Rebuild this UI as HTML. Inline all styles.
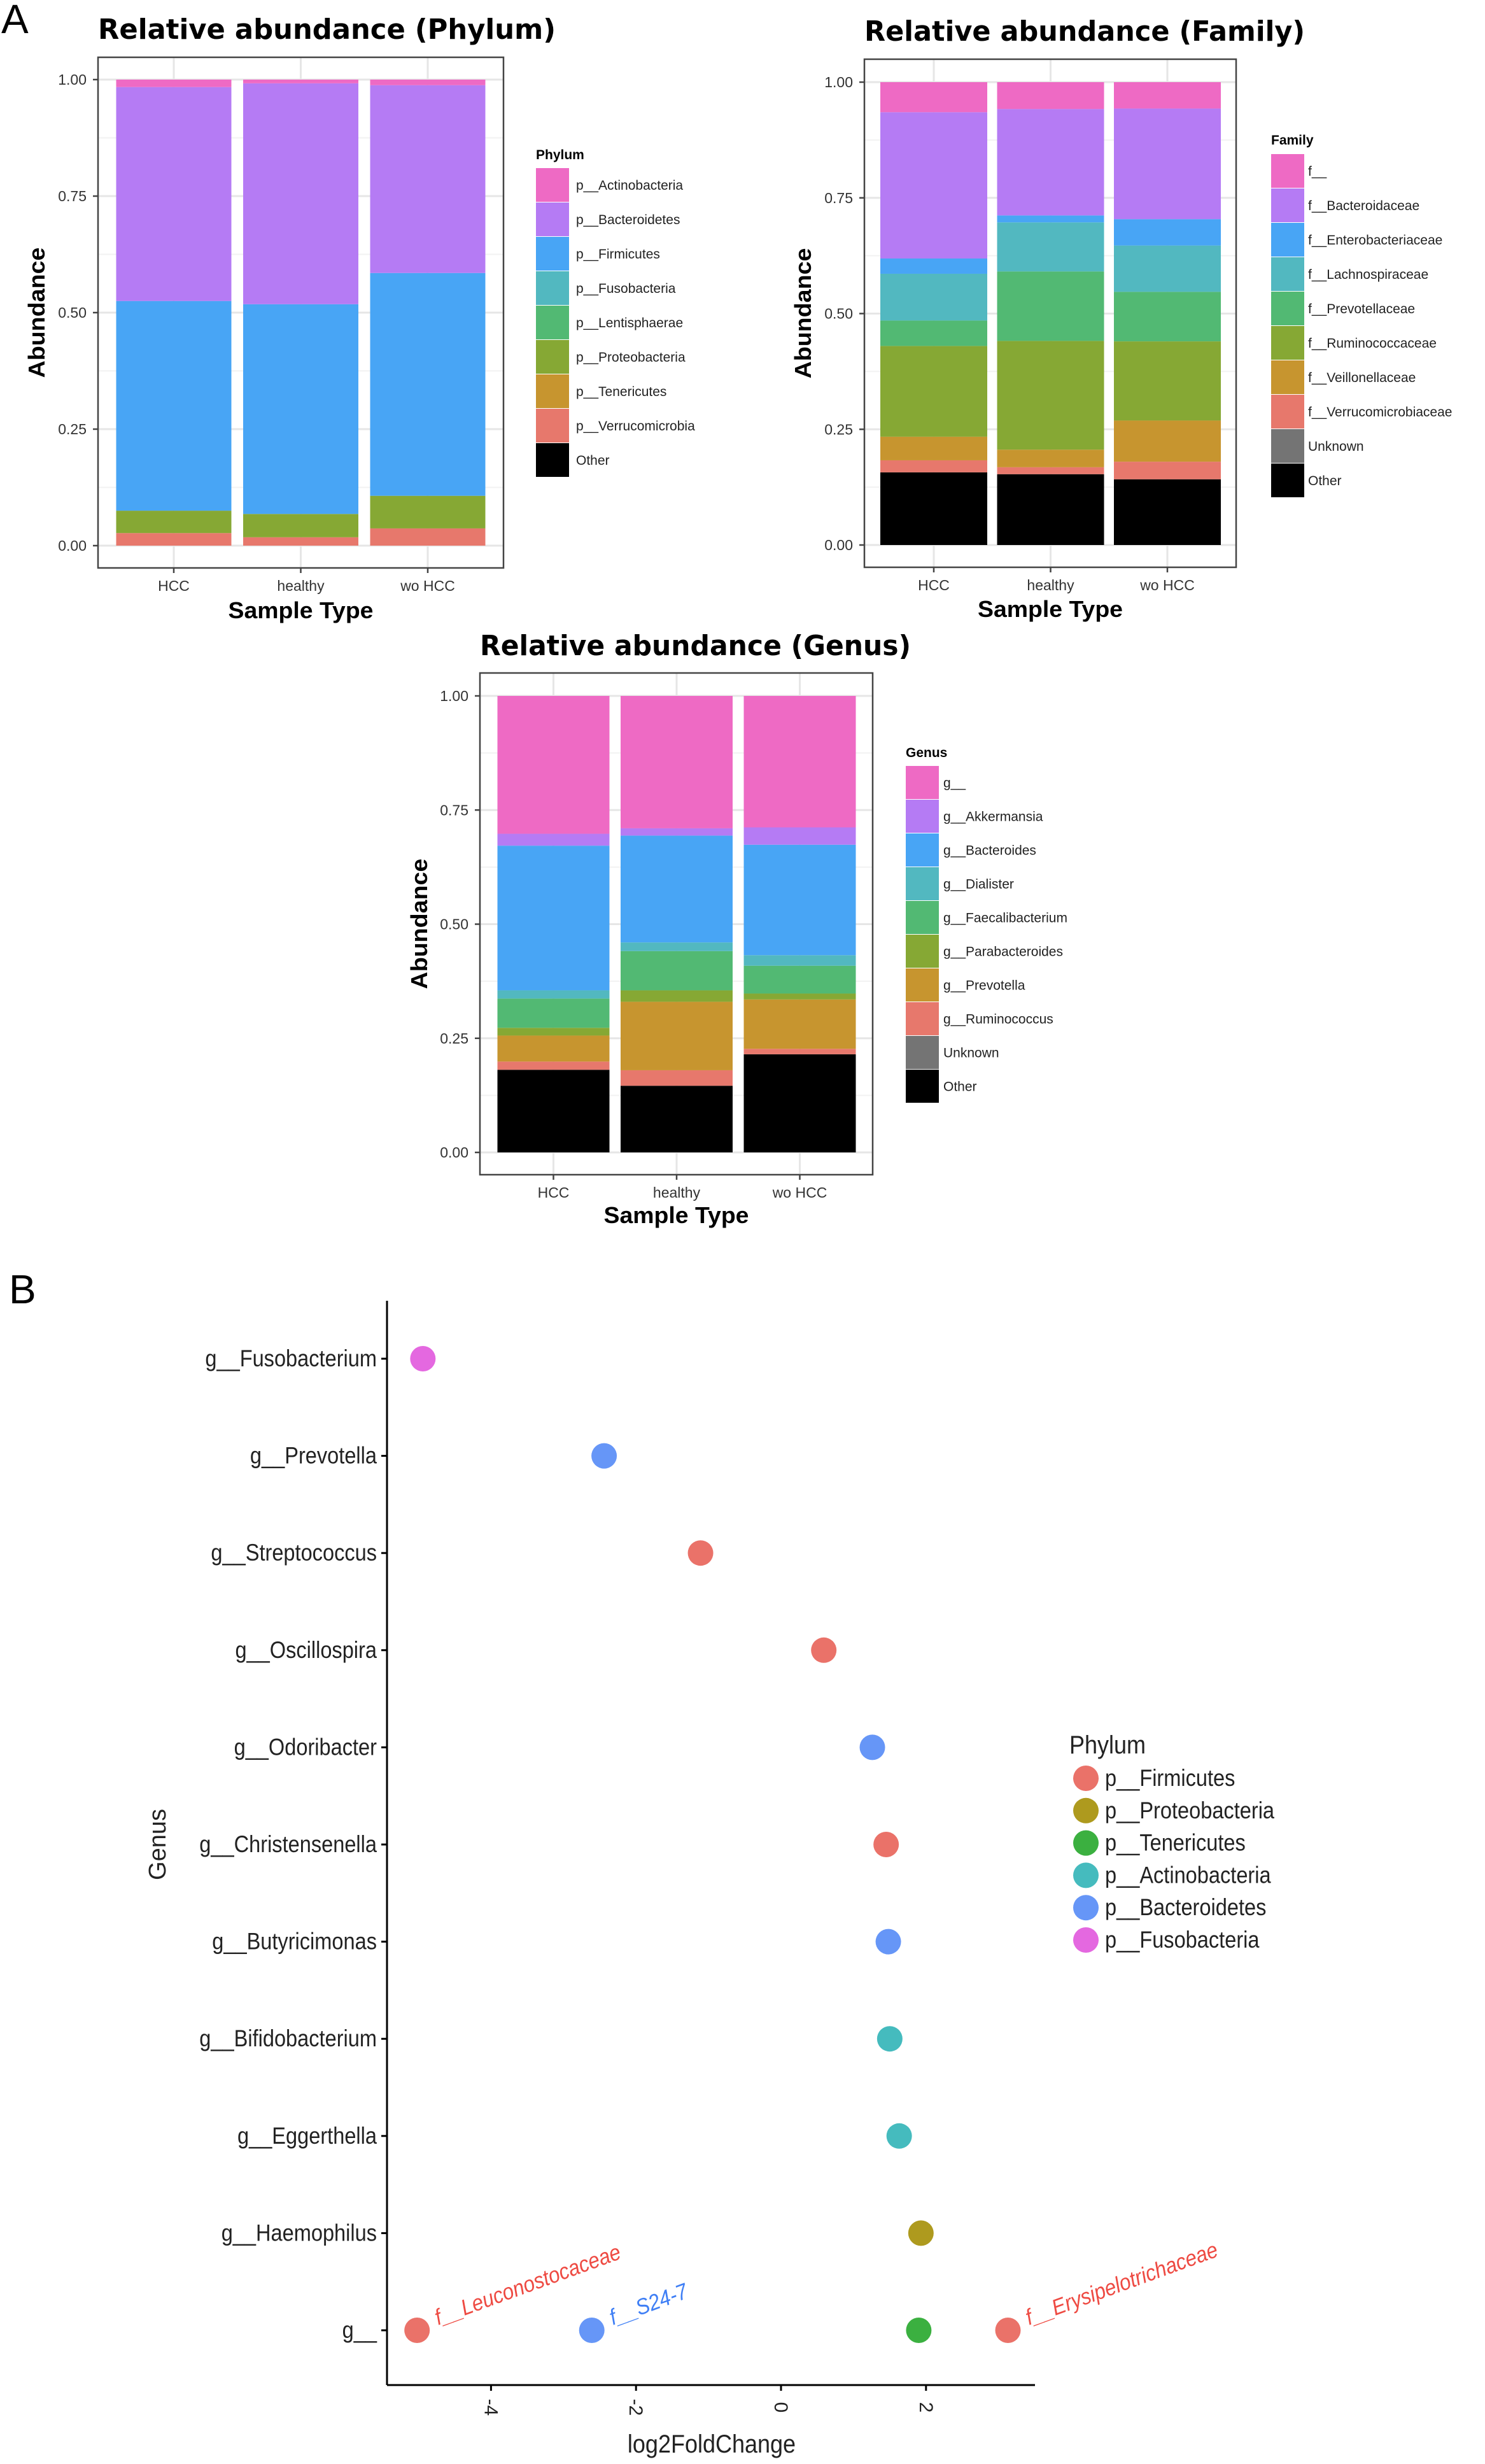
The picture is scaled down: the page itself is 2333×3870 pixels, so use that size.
<!DOCTYPE html>
<html><head><meta charset="utf-8"><style>
html,body{margin:0;padding:0;background:#fff;}
svg{display:block;font-family:"Liberation Sans",Arial,sans-serif;}
</style></head><body>
<svg id="root" width="2333" height="3870" viewBox="0 0 2333 3870" xmlns="http://www.w3.org/2000/svg">
<text x="2" y="52" font-size="64" fill="#000">A</text>
<text x="14" y="2047" font-size="64" fill="#000">B</text>
<g id="charts"></g>
</svg>
<script>
// ---------- Phylum data ----------
const phylumCategories = ["HCC", "healthy", "wo HCC"];
const phylumNames = ["Other","p__Verrucomicrobia","p__Tenericutes","p__Proteobacteria","p__Lentisphaerae","p__Fusobacteria","p__Firmicutes","p__Bacteroidetes","p__Actinobacteria"];
const phylumOther = [0, 0, 0];
const phylumVerruco = [0.027, 0.018, 0.037];
const phylumTeneric = [0, 0, 0];
const phylumProteo = [0.048, 0.050, 0.070];
const phylumLentis = [0, 0, 0];
const phylumFuso = [0, 0, 0];
const phylumFirm = [0.450, 0.450, 0.478];
const phylumBact = [0.459, 0.474, 0.403];
const phylumActino = [0.016, 0.008, 0.012];
// ---------- Family data ----------
const familyCategories = ["HCC", "healthy", "wo HCC"];
const familyNames = ["Other","Unknown","f__Verrucomicrobiaceae","f__Veillonellaceae","f__Ruminococcaceae","f__Prevotellaceae","f__Lachnospiraceae","f__Enterobacteriaceae","f__Bacteroidaceae","f__"];
const familyOther = [0.157, 0.153, 0.142];
const familyUnknown = [0, 0, 0];
const familyVerruco = [0.026, 0.015, 0.038];
const familyVeillon = [0.051, 0.038, 0.089];
const familyRumino = [0.196, 0.235, 0.171];
const familyPrevo = [0.055, 0.150, 0.107];
const familyLachno = [0.101, 0.106, 0.100];
const familyEntero = [0.033, 0.015, 0.057];
const familyBacteroid = [0.316, 0.230, 0.239];
const familyBlank = [0.065, 0.058, 0.057];
// ---------- Genus data ----------
const genusCategories = ["HCC", "healthy", "wo HCC"];
const genusNames = ["Other","Unknown","g__Ruminococcus","g__Prevotella","g__Parabacteroides","g__Faecalibacterium","g__Dialister","g__Bacteroides","g__Akkermansia","g__"];
const genusOther = [0.181, 0.146, 0.215];
const genusUnknown = [0, 0, 0];
const genusRumino = [0.018, 0.034, 0.012];
const genusPrevotella = [0.057, 0.150, 0.108];
const genusParabact = [0.017, 0.025, 0.013];
const genusFaecali = [0.064, 0.086, 0.061];
const genusDialister = [0.018, 0.019, 0.023];
const genusBacteroides = [0.317, 0.234, 0.242];
const genusAkk = [0.026, 0.016, 0.038];
const genusBlank = [0.302, 0.290, 0.288];
const yTickLabels = ["0.00","0.25","0.50","0.75","1.00"];
const yTickValues = [0, 0.25, 0.5, 0.75, 1];
// ---------- Panel B data ----------
const bGenera = ["g__Fusobacterium","g__Prevotella","g__Streptococcus","g__Oscillospira","g__Odoribacter","g__Christensenella","g__Butyricimonas","g__Bifidobacterium","g__Eggerthella","g__Haemophilus","g__"];
const pointGenus = ["g__Fusobacterium","g__Prevotella","g__Streptococcus","g__Oscillospira","g__Odoribacter","g__Christensenella","g__Butyricimonas","g__Bifidobacterium","g__Eggerthella","g__Haemophilus","g__","g__","g__","g__"];
const pointLfc = [-4.94,-2.44,-1.11,0.59,1.26,1.45,1.48,1.50,1.63,1.93,-5.02,-2.61,1.90,3.13];
const pointPhylum = ["p__Fusobacteria","p__Bacteroidetes","p__Firmicutes","p__Firmicutes","p__Bacteroidetes","p__Firmicutes","p__Bacteroidetes","p__Actinobacteria","p__Actinobacteria","p__Proteobacteria","p__Firmicutes","p__Bacteroidetes","p__Tenericutes","p__Firmicutes"];
const pointLabel = ["","","","","","","","","","","f__Leuconostocaceae","f__S24-7","","f__Erysipelotrichaceae"];
const bPhyla = ["p__Firmicutes","p__Proteobacteria","p__Tenericutes","p__Actinobacteria","p__Bacteroidetes","p__Fusobacteria"];
const bXTicks = [-4,-2,0,2];

const NS="http://www.w3.org/2000/svg";
const root=document.getElementById('charts');
function mk(tag,attrs,parent,text){const e=document.createElementNS(NS,tag);for(const k in attrs)e.setAttribute(k,attrs[k]);if(text!==undefined)e.textContent=text;(parent||root).appendChild(e);return e;}
const C8=["#000000","#E7786C","#C7952F","#86A834","#52B973","#52B8C0","#48A5F5","#B57BF4","#EE6AC4"];
const C10=["#000000","#747474","#E7786C","#C7952F","#86A834","#52B973","#52B8C0","#48A5F5","#B57BF4","#EE6AC4"];

function stacked(cfg){
  const g=mk('g',{});
  
  
  const {px0,px1,py0,py1,y0,y1}=cfg;
  const yS=v=>y0+(y1-y0)*v;
  const xC=i=>cfg.barCenters0+i*cfg.slotW;
  const t=mk('text',{x:cfg.titleX,y:cfg.titleY,'font-size':44,'font-weight':'bold','font-family':'"DejaVu Sans","Liberation Sans",sans-serif',textLength:cfg.titleW,lengthAdjust:'spacingAndGlyphs'},g,cfg.title);
  
  
  for(let v=0.125;v<1.1;v+=0.25){mk('line',{x1:px0,x2:px1,y1:yS(v),y2:yS(v),stroke:'#f2f2f2','stroke-width':2},g);}
  yTickValues.forEach(v=>mk('line',{x1:px0,x2:px1,y1:yS(v),y2:yS(v),stroke:'#e6e6e6','stroke-width':3},g));
  cfg.cats.forEach((c,i)=>mk('line',{x1:xC(i),x2:xC(i),y1:py0,y2:py1,stroke:'#e6e6e6','stroke-width':3},g));
  cfg.cats.forEach((c,i)=>{
    let cum=0;
    cfg.series.forEach((s,k)=>{
      const v=s[i]; if(v<=0){return;}
      const r=mk('rect',{x:xC(i)-cfg.barW/2,y:yS(cum+v),width:cfg.barW,height:yS(cum)-yS(cum+v),fill:cfg.colors[k]},g);
      
      
      cum+=v;
    });
  });
  mk('rect',{x:px0,y:py0,width:px1-px0,height:py1-py0,fill:'none',stroke:'#444','stroke-width':2.5},g);
  yTickValues.forEach((v,k)=>{
    mk('line',{x1:px0-8,x2:px0,y1:yS(v),y2:yS(v),stroke:'#444','stroke-width':2.5},g);
    const tl=mk('text',{x:px0-18,y:yS(v)+8,'font-size':23,'text-anchor':'end',fill:'#333'},g,yTickLabels[k]);
    
    
  });
  cfg.cats.forEach((c,i)=>{
    mk('line',{x1:xC(i),x2:xC(i),y1:py1,y2:py1+8,stroke:'#444','stroke-width':2.5},g);
    const tl=mk('text',{x:xC(i),y:py1+36,'font-size':23,'text-anchor':'middle',fill:'#333'},g,c);
    
    
  });
  const xt=mk('text',{x:(px0+px1)/2,y:cfg.xtY,'font-size':36,'font-weight':'bold','text-anchor':'middle',textLength:228,lengthAdjust:'spacingAndGlyphs'},g,'Sample Type');
  
  
  const yt=mk('text',{x:0,y:0,'font-size':36,'font-weight':'bold','text-anchor':'middle',transform:`translate(${cfg.ytX},${(py0+py1)/2}) rotate(-90)`,textLength:205,lengthAdjust:'spacingAndGlyphs'},g,'Abundance');
  
  
  const lg=mk('g',{},g);
  
  
  mk('text',{x:cfg.legX,y:cfg.legTitleY,'font-size':21,'font-weight':'bold'},lg,cfg.legTitle);
  const n=cfg.names.length;
  for(let j=0;j<n;j++){
    const k=n-1-j;
    const ky=cfg.legKeyY+j*cfg.keyH;
    mk('rect',{x:cfg.legX,y:ky,width:52,height:cfg.keyH-1,fill:cfg.colors[k]},lg);
    const lt=mk('text',{x:cfg.legLabelX,y:ky+cfg.keyH/2+7,'font-size':21,fill:'#222'},lg,cfg.names[k]);
    
    
  }
}

stacked({name:'phylum-chart',title:'Relative abundance (Phylum)',titleX:154,titleY:61,titleW:719,
  px0:154,px1:791,py0:90,py1:892,y0:857,y1:125,barCenters0:273,slotW:199.5,barW:181,cats:phylumCategories,
  series:[phylumOther,phylumVerruco,phylumTeneric,phylumProteo,phylumLentis,phylumFuso,phylumFirm,phylumBact,phylumActino],
  names:phylumNames,colors:C8,xtY:971,ytX:70,legX:842,legTitleY:250,legKeyY:264,keyH:54,legLabelX:905,legTitle:'Phylum'});
stacked({name:'family-chart',title:'Relative abundance (Family)',titleX:1358,titleY:64,titleW:692,
  px0:1358,px1:1942,py0:93,py1:891,y0:856,y1:129,barCenters0:1467,slotW:183.5,barW:168,cats:familyCategories,
  series:[familyOther,familyUnknown,familyVerruco,familyVeillon,familyRumino,familyPrevo,familyLachno,familyEntero,familyBacteroid,familyBlank],
  names:familyNames,colors:C10,xtY:969,ytX:1274,legX:1997,legTitleY:227,legKeyY:242,keyH:54,legLabelX:2055,legTitle:'Family'});
stacked({name:'genus-chart',title:'Relative abundance (Genus)',titleX:754,titleY:1029,titleW:677,
  px0:754,px1:1371,py0:1057,py1:1845,y0:1810,y1:1093,barCenters0:869.5,slotW:193.5,barW:176,cats:genusCategories,
  series:[genusOther,genusUnknown,genusRumino,genusPrevotella,genusParabact,genusFaecali,genusDialister,genusBacteroides,genusAkk,genusBlank],
  names:genusNames,colors:C10,xtY:1921,ytX:671,legX:1423,legTitleY:1189,legKeyY:1203,keyH:53,legLabelX:1482,legTitle:'Genus'});

// ---------- Panel B ----------
(function(){
  const g=mk('g',{});
  
  
  const pCol={"p__Firmicutes":"#EA7269","p__Proteobacteria":"#AE9A1E","p__Tenericutes":"#3BB040","p__Actinobacteria":"#45BBBE","p__Bacteroidetes":"#6696F7","p__Fusobacteria":"#E468E0"};
  const tCol={"p__Firmicutes":"#EE4A42","p__Bacteroidetes":"#3F7FF5"};
  const axL=608, axR=1626, axT=2043, axB=3746;
  const xS=v=>1227+v*113.9;
  const yS=name=>2134+bGenera.indexOf(name)*152.6;
  mk('line',{x1:axL,x2:axL,y1:axT,y2:axB,stroke:'#000','stroke-width':3},g);
  mk('line',{x1:axL,x2:axR,y1:axB,y2:axB,stroke:'#000','stroke-width':3},g);
  bGenera.forEach(name=>{
    const y=yS(name);
    mk('line',{x1:axL-9,x2:axL,y1:y,y2:y,stroke:'#000','stroke-width':3},g);
    const t=mk('text',{x:0,y:0,'font-size':37,'text-anchor':'end',fill:'#222',transform:`translate(${axL-16},${y+12}) scale(0.88,1)`},g,name);
    
    
  });
  bXTicks.forEach(v=>{
    const x=xS(v);
    mk('line',{x1:x,x2:x,y1:axB,y2:axB+9,stroke:'#000','stroke-width':3},g);
    const t=mk('text',{x:0,y:0,'font-size':30,'text-anchor':'middle',fill:'#222',transform:`translate(${x-10},${axB+35}) rotate(90)`},g,String(v));
    
    
  });
  const xt=mk('text',{x:0,y:0,'font-size':40,'text-anchor':'middle',fill:'#222',transform:'translate(1118,3852) scale(0.9,1)'},g,'log2FoldChange');
  
  
  const yt=mk('text',{x:0,y:0,'font-size':38,'text-anchor':'middle',fill:'#222',transform:'translate(260,2897) rotate(-90)'},g,'Genus');
  
  
  pointLfc.forEach((v,i)=>{
    const cx=xS(v), cy=yS(pointGenus[i]);
    const c=mk('circle',{cx:cx,cy:cy,r:20,fill:pCol[pointPhylum[i]]},g);
    
    
    if(pointLabel[i]){
      const t=mk('text',{x:0,y:0,'font-size':35,'font-style':'italic',fill:tCol[pointPhylum[i]]||pCol[pointPhylum[i]],transform:`translate(${cx+33},${cy-8}) rotate(-20) scale(0.9,1)`},g,pointLabel[i]);
      
      
    }
  });
  const lg=mk('g',{},g);
  
  
  mk('text',{x:0,y:0,'font-size':40,fill:'#222',transform:'translate(1680,2754) scale(0.9,1)'},lg,'Phylum');
  bPhyla.forEach((p,j)=>{
    const cy=2793+j*50.8;
    mk('circle',{cx:1706,cy:cy,r:20,fill:pCol[p]},lg);
    const t=mk('text',{x:0,y:0,'font-size':37,fill:'#222',transform:`translate(1736,${cy+12}) scale(0.88,1)`},lg,p);
    
    
  });
})();
</script>
</body></html>
